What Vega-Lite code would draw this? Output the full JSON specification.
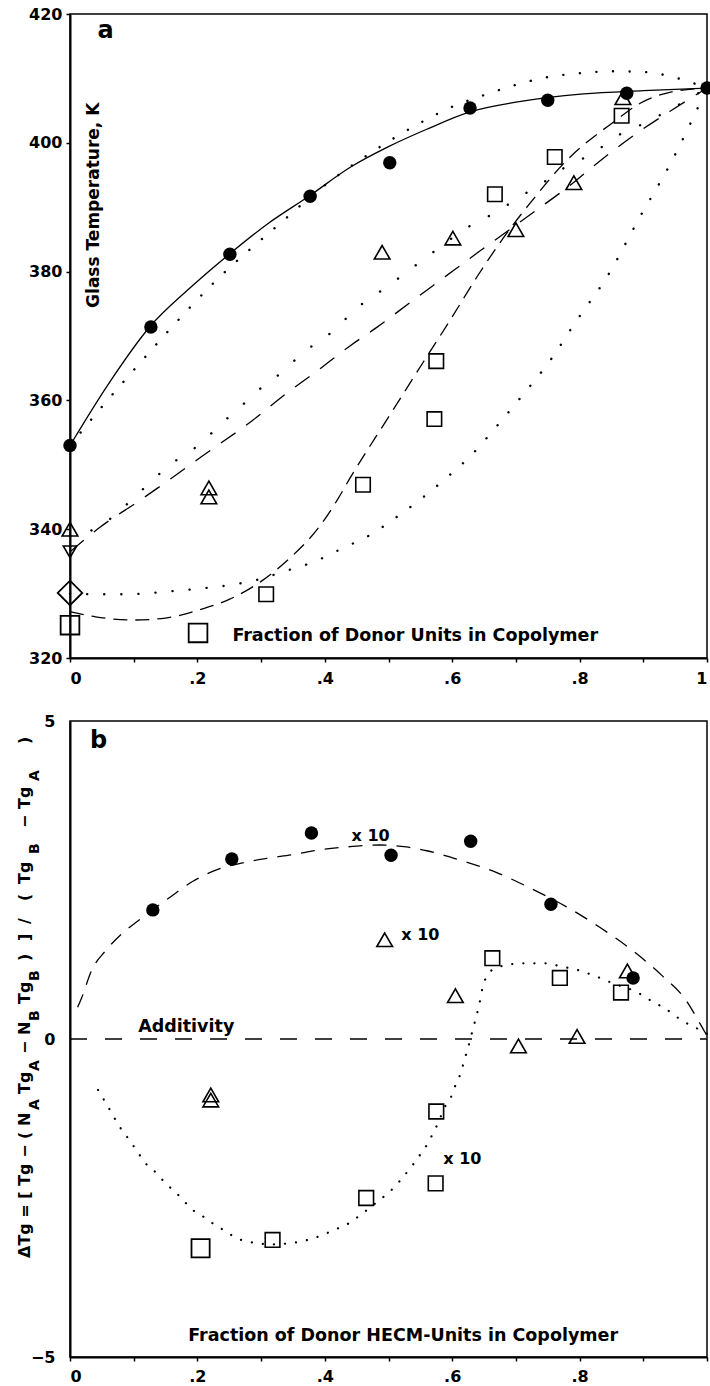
{
  "$schema": "https://vega.github.io/schema/vega-lite/v6.json",
  "background": "white",
  "padding": {"left": 16, "top": 5, "right": 0, "bottom": 0},
  "spacing": 63,
  "bounds": "flush",
  "config": {
    "view": {"stroke": "black", "strokeWidth": 1.5},
    "font": "DejaVu Sans",
    "axis": {
      "labelFont": "DejaVu Sans", "labelFontWeight": "bold", "labelFontSize": 16, "labelColor": "black",
      "domainColor": "black", "domainWidth": 2, "tickColor": "black", "tickWidth": 1.5, "tickSize": 4,
      "grid": false, "labelOverlap": false
    },
    "text": {"font": "DejaVu Sans", "fontWeight": "bold", "color": "black"}
  },
  "datasets": {
    "a_curves": [
      {"c":"A","x":0,"y":353},{"c":"A","x":0.06,"y":362.5},{"c":"A","x":0.125,"y":371.4},{"c":"A","x":0.19,"y":377.6},{"c":"A","x":0.25,"y":382.7},{"c":"A","x":0.31,"y":387.4},{"c":"A","x":0.375,"y":391.7},{"c":"A","x":0.44,"y":396.2},{"c":"A","x":0.5,"y":399.4},{"c":"A","x":0.56,"y":402.1},{"c":"A","x":0.628,"y":404.8},{"c":"A","x":0.7,"y":406.3},{"c":"A","x":0.806,"y":407.6},{"c":"A","x":0.9,"y":408.1},{"c":"A","x":1,"y":408.5},
      {"c":"B","x":0,"y":353},{"c":"B","x":0.05,"y":359},{"c":"B","x":0.1,"y":364.7},{"c":"B","x":0.15,"y":370.3},{"c":"B","x":0.225,"y":378.2},{"c":"B","x":0.33,"y":387.5},{"c":"B","x":0.4,"y":393.4},{"c":"B","x":0.47,"y":398.3},{"c":"B","x":0.55,"y":403.1},{"c":"B","x":0.6,"y":405.6},{"c":"B","x":0.65,"y":407.4},{"c":"B","x":0.7,"y":409.0},{"c":"B","x":0.75,"y":410.2},{"c":"B","x":0.8,"y":410.8},{"c":"B","x":0.85,"y":411.1},{"c":"B","x":0.9,"y":411.0},{"c":"B","x":0.955,"y":410.0},{"c":"B","x":1,"y":408.5},
      {"c":"C","x":0,"y":336.5},{"c":"C","x":0.047,"y":340.3},{"c":"C","x":0.11,"y":344.5},{"c":"C","x":0.162,"y":348.1},{"c":"C","x":0.204,"y":351.1},{"c":"C","x":0.288,"y":357.0},{"c":"C","x":0.34,"y":361.1},{"c":"C","x":0.387,"y":364.5},{"c":"C","x":0.44,"y":368.5},{"c":"C","x":0.481,"y":371.3},{"c":"C","x":0.534,"y":375.2},{"c":"C","x":0.586,"y":379.0},{"c":"C","x":0.638,"y":382.8},{"c":"C","x":0.68,"y":385.8},{"c":"C","x":0.733,"y":389.6},{"c":"C","x":0.78,"y":393.0},{"c":"C","x":0.827,"y":396.8},{"c":"C","x":0.89,"y":401.5},{"c":"C","x":0.942,"y":404.9},{"c":"C","x":1,"y":408.5},
      {"c":"D","x":0,"y":339},{"c":"D","x":0.044,"y":340.3},{"c":"D","x":0.063,"y":341.6},{"c":"D","x":0.11,"y":345.8},{"c":"D","x":0.157,"y":350},{"c":"D","x":0.201,"y":353},{"c":"D","x":0.24,"y":356.6},{"c":"D","x":0.272,"y":359.4},{"c":"D","x":0.303,"y":362.2},{"c":"D","x":0.333,"y":364.4},{"c":"D","x":0.358,"y":366.7},{"c":"D","x":0.382,"y":368.6},{"c":"D","x":0.411,"y":370.6},{"c":"D","x":0.45,"y":374.3},{"c":"D","x":0.497,"y":377.6},{"c":"D","x":0.57,"y":383},{"c":"D","x":0.623,"y":386.8},{"c":"D","x":0.67,"y":389.3},{"c":"D","x":0.706,"y":391.6},{"c":"D","x":0.741,"y":393.7},{"c":"D","x":0.774,"y":396},{"c":"D","x":0.821,"y":398.4},{"c":"D","x":0.858,"y":401},{"c":"D","x":0.905,"y":403.2},{"c":"D","x":0.95,"y":405.6},{"c":"D","x":1,"y":408.5},
      {"c":"E","x":0,"y":327.2},{"c":"E","x":0.04,"y":326.4},{"c":"E","x":0.1,"y":325.9},{"c":"E","x":0.15,"y":326.2},{"c":"E","x":0.2,"y":327.4},{"c":"E","x":0.25,"y":329.1},{"c":"E","x":0.3,"y":331.9},{"c":"E","x":0.345,"y":335.5},{"c":"E","x":0.39,"y":340.2},{"c":"E","x":0.42,"y":344.6},{"c":"E","x":0.44,"y":348.0},{"c":"E","x":0.5,"y":357.4},{"c":"E","x":0.555,"y":366.0},{"c":"E","x":0.597,"y":372.5},{"c":"E","x":0.639,"y":379.2},{"c":"E","x":0.686,"y":386.0},{"c":"E","x":0.722,"y":390.6},{"c":"E","x":0.78,"y":397.3},{"c":"E","x":0.853,"y":403.2},{"c":"E","x":0.9,"y":406.4},{"c":"E","x":0.94,"y":407.8},{"c":"E","x":1,"y":408.5},
      {"c":"F","x":0,"y":330},{"c":"F","x":0.044,"y":329.9},{"c":"F","x":0.089,"y":329.9},{"c":"F","x":0.128,"y":330.1},{"c":"F","x":0.162,"y":330.4},{"c":"F","x":0.196,"y":330.7},{"c":"F","x":0.225,"y":331.0},{"c":"F","x":0.256,"y":331.4},{"c":"F","x":0.3,"y":332.3},{"c":"F","x":0.335,"y":333.4},{"c":"F","x":0.382,"y":334.9},{"c":"F","x":0.429,"y":337.1},{"c":"F","x":0.471,"y":339.1},{"c":"F","x":0.51,"y":341.7},{"c":"F","x":0.551,"y":344.7},{"c":"F","x":0.59,"y":347.9},{"c":"F","x":0.63,"y":351.5},{"c":"F","x":0.67,"y":356.0},{"c":"F","x":0.712,"y":361},{"c":"F","x":0.753,"y":366.1},{"c":"F","x":0.796,"y":372.5},{"c":"F","x":0.845,"y":379.5},{"c":"F","x":0.892,"y":388},{"c":"F","x":0.947,"y":397.6},{"c":"F","x":0.973,"y":402.8},{"c":"F","x":1,"y":408.5}
    ],
    "a_circles": [
      {"x":0,"y":353},{"x":0.127,"y":371.4},{"x":0.251,"y":382.7},{"x":0.377,"y":391.7},{"x":0.502,"y":396.9},{"x":0.628,"y":405.4},{"x":0.75,"y":406.6},{"x":0.874,"y":407.7},{"x":1,"y":408.5}
    ],
    "a_open": [
      {"s":"tri","x":0,"y":340},{"s":"tri","x":0.218,"y":346.4},{"s":"tri","x":0.218,"y":345.0},{"s":"tri","x":0.49,"y":383.0},{"s":"tri","x":0.601,"y":385.2},{"s":"tri","x":0.7,"y":386.5},{"s":"tri","x":0.791,"y":393.8},{"s":"tri","x":0.868,"y":407.0},
      {"s":"tri_down","x":0,"y":336.5},
      {"s":"diamond","x":0,"y":330.1},
      {"s":"sq","x":0.308,"y":329.9},{"s":"sq","x":0.46,"y":346.9},{"s":"sq","x":0.572,"y":357.1},{"s":"sq","x":0.575,"y":366.1},{"s":"sq","x":0.667,"y":392.0},{"s":"sq","x":0.761,"y":397.8},{"s":"sq","x":0.866,"y":404.2},
      {"s":"sq_big","x":0,"y":325.1},{"s":"sq_big","x":0.201,"y":323.9}
    ],
    "b_curves": [
      {"c":"G","x":0.012,"y":0.5},{"c":"G","x":0.018,"y":0.64},{"c":"G","x":0.034,"y":1.08},{"c":"G","x":0.057,"y":1.4},{"c":"G","x":0.083,"y":1.67},{"c":"G","x":0.107,"y":1.86},{"c":"G","x":0.157,"y":2.23},{"c":"G","x":0.193,"y":2.48},{"c":"G","x":0.23,"y":2.66},{"c":"G","x":0.271,"y":2.77},{"c":"G","x":0.309,"y":2.84},{"c":"G","x":0.35,"y":2.9},{"c":"G","x":0.389,"y":2.97},{"c":"G","x":0.434,"y":3.02},{"c":"G","x":0.486,"y":3.05},{"c":"G","x":0.528,"y":3.02},{"c":"G","x":0.56,"y":2.96},{"c":"G","x":0.607,"y":2.83},{"c":"G","x":0.669,"y":2.62},{"c":"G","x":0.729,"y":2.34},{"c":"G","x":0.788,"y":2.03},{"c":"G","x":0.831,"y":1.76},{"c":"G","x":0.882,"y":1.4},{"c":"G","x":0.929,"y":1.0},{"c":"G","x":0.967,"y":0.61},{"c":"G","x":0.992,"y":0.19},{"c":"G","x":1,"y":0.05},
      {"c":"add","x":0,"y":0},{"c":"add","x":1,"y":0},
      {"c":"H","x":0.044,"y":-0.8},{"c":"H","x":0.06,"y":-1.07},{"c":"H","x":0.078,"y":-1.38},{"c":"H","x":0.094,"y":-1.6},{"c":"H","x":0.107,"y":-1.79},{"c":"H","x":0.12,"y":-1.97},{"c":"H","x":0.136,"y":-2.11},{"c":"H","x":0.149,"y":-2.26},{"c":"H","x":0.167,"y":-2.42},{"c":"H","x":0.18,"y":-2.56},{"c":"H","x":0.193,"y":-2.69},{"c":"H","x":0.212,"y":-2.81},{"c":"H","x":0.23,"y":-2.94},{"c":"H","x":0.246,"y":-3.03},{"c":"H","x":0.259,"y":-3.12},{"c":"H","x":0.277,"y":-3.18},{"c":"H","x":0.293,"y":-3.21},{"c":"H","x":0.32,"y":-3.23},{"c":"H","x":0.345,"y":-3.21},{"c":"H","x":0.373,"y":-3.16},{"c":"H","x":0.397,"y":-3.08},{"c":"H","x":0.415,"y":-3.0},{"c":"H","x":0.434,"y":-2.92},{"c":"H","x":0.45,"y":-2.81},{"c":"H","x":0.486,"y":-2.53},{"c":"H","x":0.502,"y":-2.4},{"c":"H","x":0.517,"y":-2.24},{"c":"H","x":0.538,"y":-1.98},{"c":"H","x":0.551,"y":-1.8},{"c":"H","x":0.56,"y":-1.67},{"c":"H","x":0.569,"y":-1.5},{"c":"H","x":0.575,"y":-1.38},{"c":"H","x":0.59,"y":-1.04},{"c":"H","x":0.601,"y":-0.85},{"c":"H","x":0.606,"y":-0.7},{"c":"H","x":0.614,"y":-0.52},{"c":"H","x":0.619,"y":-0.33},{"c":"H","x":0.624,"y":-0.17},{"c":"H","x":0.63,"y":0.06},{"c":"H","x":0.635,"y":0.25},{"c":"H","x":0.643,"y":0.57},{"c":"H","x":0.648,"y":0.82},{"c":"H","x":0.655,"y":1.0},{"c":"H","x":0.669,"y":1.12},{"c":"H","x":0.685,"y":1.16},{"c":"H","x":0.705,"y":1.19},{"c":"H","x":0.747,"y":1.19},{"c":"H","x":0.771,"y":1.14},{"c":"H","x":0.795,"y":1.09},{"c":"H","x":0.816,"y":1.02},{"c":"H","x":0.837,"y":0.94},{"c":"H","x":0.851,"y":0.88},{"c":"H","x":0.889,"y":0.74},{"c":"H","x":0.903,"y":0.66},{"c":"H","x":0.917,"y":0.57},{"c":"H","x":0.933,"y":0.49},{"c":"H","x":0.948,"y":0.38},{"c":"H","x":0.964,"y":0.27},{"c":"H","x":0.98,"y":0.19},{"c":"H","x":1,"y":0.08}
    ],
    "b_circles": [
      {"x":0.13,"y":2.03},{"x":0.254,"y":2.83},{"x":0.379,"y":3.24},{"x":0.504,"y":2.89},{"x":0.629,"y":3.11},{"x":0.755,"y":2.12},{"x":0.884,"y":0.96}
    ],
    "b_open": [
      {"s":"tri","x":0.221,"y":-0.88},{"s":"tri","x":0.221,"y":-0.96},{"s":"tri","x":0.494,"y":1.56},{"s":"tri","x":0.605,"y":0.68},{"s":"tri","x":0.704,"y":-0.11},{"s":"tri","x":0.796,"y":0.04},{"s":"tri","x":0.875,"y":1.07},
      {"s":"sq","x":0.318,"y":-3.16},{"s":"sq","x":0.465,"y":-2.5},{"s":"sq","x":0.574,"y":-2.27},{"s":"sq","x":0.575,"y":-1.14},{"s":"sq","x":0.663,"y":1.27},{"s":"sq","x":0.769,"y":0.96},{"s":"sq","x":0.865,"y":0.73},
      {"s":"sq_big","x":0.205,"y":-3.29}
    ],
    "b_ytitle": [
      {"p":"main","x":-0.07,"y":-3.443,"t":"ΔTg = [ Tg − ( N"},
      {"p":"sub","x":-0.07,"y":-1.116,"t":"A"},
      {"p":"main","x":-0.07,"y":-0.865,"t":"Tg"},
      {"p":"sub","x":-0.07,"y":-0.503,"t":"A"},
      {"p":"main","x":-0.07,"y":-0.236,"t":"− N"},
      {"p":"sub","x":-0.07,"y":0.283,"t":"B"},
      {"p":"main","x":-0.07,"y":0.55,"t":"Tg"},
      {"p":"sub","x":-0.07,"y":0.912,"t":"B"},
      {"p":"main","x":-0.07,"y":1.226,"t":")"},
      {"p":"main","x":-0.07,"y":1.541,"t":"]"},
      {"p":"main","x":-0.07,"y":1.808,"t":"/"},
      {"p":"main","x":-0.07,"y":2.17,"t":"("},
      {"p":"main","x":-0.07,"y":2.437,"t":"Tg"},
      {"p":"sub","x":-0.07,"y":2.909,"t":"B"},
      {"p":"main","x":-0.07,"y":3.318,"t":"− Tg"},
      {"p":"sub","x":-0.07,"y":4.057,"t":"A"},
      {"p":"main","x":-0.07,"y":4.638,"t":")"}
    ]
  },
  "vconcat": [
    {
      "width": 637,
      "height": 644,
      "encoding": {
        "x": {"field": "x", "type": "quantitative", "scale": {"domain": [0, 1], "nice": false, "zero": false},
          "axis": {"title": null, "values": [0,0.1,0.2,0.3,0.4,0.5,0.6,0.7,0.8,0.9,1],
            "labelExpr": "round(datum.value*10)%2==0 ? (datum.value==0 ? '0' : (datum.value==1 ? '1' : replace(format(datum.value,'.1f'),'0.','.'))) : ''",
            "labelPadding": 8, "labelFlush": true}},
        "y": {"field": "y", "type": "quantitative", "scale": {"domain": [320, 420], "nice": false, "zero": false},
          "axis": {"title": null, "values": [320,340,360,380,400,420], "labelPadding": 4}}
      },
      "layer": [
        {"data": {"name": "a_curves"}, "transform": [{"filter": {"field": "c", "equal": "A"}}],
          "mark": {"type": "line", "color": "black", "strokeWidth": 1.3, "interpolate": "monotone"}, "encoding": {}},
        {"data": {"name": "a_curves"}, "transform": [{"filter": {"field": "c", "equal": "C"}}],
          "mark": {"type": "line", "color": "black", "strokeWidth": 1.3, "interpolate": "monotone", "strokeDash": [18, 13]}, "encoding": {}},
        {"data": {"name": "a_curves"}, "transform": [{"filter": {"field": "c", "equal": "E"}}],
          "mark": {"type": "line", "color": "black", "strokeWidth": 1.3, "interpolate": "monotone", "strokeDash": [14, 8]}, "encoding": {}},
        {"data": {"name": "a_curves"}, "transform": [{"filter": {"field": "c", "equal": "B"}}],
          "mark": {"type": "line", "color": "black", "strokeWidth": 2.4, "interpolate": "monotone", "strokeCap": "round", "strokeDash": [0.1, 16.5]}, "encoding": {}},
        {"data": {"name": "a_curves"}, "transform": [{"filter": {"field": "c", "equal": "D"}}],
          "mark": {"type": "line", "color": "black", "strokeWidth": 2.4, "interpolate": "monotone", "strokeCap": "round", "strokeDash": [0.1, 22]}, "encoding": {}},
        {"data": {"name": "a_curves"}, "transform": [{"filter": {"field": "c", "equal": "F"}}],
          "mark": {"type": "line", "color": "black", "strokeWidth": 2.4, "interpolate": "monotone", "strokeCap": "round", "strokeDash": [0.1, 17]}, "encoding": {}},
        {"data": {"name": "a_open"}, "transform": [{"filter": {"field": "s", "equal": "tri"}}],
          "mark": {"type": "point", "shape": "triangle-up", "size": 245, "filled": false, "color": "black", "strokeWidth": 1.6, "opacity": 1}},
        {"data": {"name": "a_open"}, "transform": [{"filter": {"field": "s", "equal": "tri_down"}}],
          "mark": {"type": "point", "shape": "triangle-down", "size": 180, "filled": false, "color": "black", "strokeWidth": 1.6, "opacity": 1}},
        {"data": {"name": "a_open"}, "transform": [{"filter": {"field": "s", "equal": "diamond"}}],
          "mark": {"type": "point", "shape": "diamond", "size": 600, "filled": false, "color": "black", "strokeWidth": 1.8, "opacity": 1}},
        {"data": {"name": "a_open"}, "transform": [{"filter": {"field": "s", "equal": "sq"}}],
          "mark": {"type": "point", "shape": "square", "size": 210, "filled": false, "color": "black", "strokeWidth": 1.6, "opacity": 1}},
        {"data": {"name": "a_open"}, "transform": [{"filter": {"field": "s", "equal": "sq_big"}}],
          "mark": {"type": "point", "shape": "square", "size": 350, "filled": false, "color": "black", "strokeWidth": 1.8, "opacity": 1}},
        {"data": {"name": "a_circles"},
          "mark": {"type": "point", "filled": true, "shape": "circle", "size": 180, "color": "black", "opacity": 1}},
        {"data": {"values": [{"x": 0.056, "y": 417.3, "t": "a"}]},
          "mark": {"type": "text", "fontSize": 24, "align": "center", "baseline": "middle"},
          "encoding": {"text": {"field": "t"}}},
        {"data": {"values": [{"x": 0.038, "y": 390.3, "t": "Glass Temperature,   K"}]},
          "mark": {"type": "text", "fontSize": 17, "angle": 270, "align": "center", "baseline": "middle"},
          "encoding": {"text": {"field": "t"}}},
        {"data": {"values": [{"x": 0.542, "y": 323.4, "t": "Fraction of Donor Units in Copolymer"}]},
          "mark": {"type": "text", "fontSize": 17.5, "align": "center", "baseline": "middle"},
          "encoding": {"text": {"field": "t"}}}
      ]
    },
    {
      "width": 637,
      "height": 636,
      "encoding": {
        "x": {"field": "x", "type": "quantitative", "scale": {"domain": [0, 1], "nice": false, "zero": false},
          "axis": {"title": null, "values": [0,0.1,0.2,0.3,0.4,0.5,0.6,0.7,0.8,0.9,1],
            "labelExpr": "round(datum.value*10)%2==0 && datum.value < 0.95 ? (datum.value==0 ? '0' : replace(format(datum.value,'.1f'),'0.','.')) : ''",
            "labelPadding": 7, "labelFlush": true}},
        "y": {"field": "y", "type": "quantitative", "scale": {"domain": [-5, 5], "nice": false, "zero": false},
          "axis": {"title": null, "values": [-5,0,5], "labelPadding": 15, "ticks": false}}
      },
      "layer": [
        {"data": {"name": "b_curves"}, "transform": [{"filter": {"field": "c", "equal": "G"}}],
          "mark": {"type": "line", "color": "black", "strokeWidth": 1.3, "interpolate": "monotone", "strokeDash": [14, 10]}, "encoding": {}},
        {"data": {"name": "b_curves"}, "transform": [{"filter": {"field": "c", "equal": "add"}}],
          "mark": {"type": "line", "color": "black", "strokeWidth": 1.3, "strokeDash": [17, 18]}, "encoding": {}},
        {"data": {"name": "b_curves"}, "transform": [{"filter": {"field": "c", "equal": "H"}}],
          "mark": {"type": "line", "color": "black", "strokeWidth": 2.2, "interpolate": "monotone", "strokeCap": "round", "strokeDash": [0.1, 11]}, "encoding": {}},
        {"data": {"name": "b_open"}, "transform": [{"filter": {"field": "s", "equal": "tri"}}],
          "mark": {"type": "point", "shape": "triangle-up", "size": 245, "filled": false, "color": "black", "strokeWidth": 1.6, "opacity": 1}},
        {"data": {"name": "b_open"}, "transform": [{"filter": {"field": "s", "equal": "sq"}}],
          "mark": {"type": "point", "shape": "square", "size": 215, "filled": false, "color": "black", "strokeWidth": 1.6, "opacity": 1}},
        {"data": {"name": "b_open"}, "transform": [{"filter": {"field": "s", "equal": "sq_big"}}],
          "mark": {"type": "point", "shape": "square", "size": 330, "filled": false, "color": "black", "strokeWidth": 1.8, "opacity": 1}},
        {"data": {"name": "b_circles"},
          "mark": {"type": "point", "filled": true, "shape": "circle", "size": 180, "color": "black", "opacity": 1}},
        {"data": {"values": [{"x": 0.045, "y": 4.68, "t": "b"}]},
          "mark": {"type": "text", "fontSize": 24, "align": "center", "baseline": "middle"},
          "encoding": {"text": {"field": "t"}}},
        {"data": {"values": [{"x": 0.442, "y": 3.19, "t": "x 10"}, {"x": 0.52, "y": 1.63, "t": "x 10"}, {"x": 0.586, "y": -1.89, "t": "x 10"}]},
          "mark": {"type": "text", "fontSize": 16, "align": "left", "baseline": "middle"},
          "encoding": {"text": {"field": "t"}}},
        {"data": {"values": [{"x": 0.107, "y": 0.19, "t": "Additivity"}]},
          "mark": {"type": "text", "fontSize": 17.5, "align": "left", "baseline": "middle"},
          "encoding": {"text": {"field": "t"}}},
        {"data": {"values": [{"x": 0.523, "y": -4.67, "t": "Fraction of Donor HECM-Units in Copolymer"}]},
          "mark": {"type": "text", "fontSize": 17.5, "align": "center", "baseline": "middle"},
          "encoding": {"text": {"field": "t"}}},
        {"data": {"name": "b_ytitle"}, "transform": [{"filter": {"field": "p", "equal": "main"}}],
          "mark": {"type": "text", "fontSize": 16, "angle": 270, "align": "left", "baseline": "middle"},
          "encoding": {"text": {"field": "t"}}},
        {"data": {"name": "b_ytitle"}, "transform": [{"filter": {"field": "p", "equal": "sub"}}],
          "mark": {"type": "text", "fontSize": 14, "angle": 270, "align": "left", "baseline": "middle", "dy": 10},
          "encoding": {"text": {"field": "t"}}}
      ]
    }
  ]
}
